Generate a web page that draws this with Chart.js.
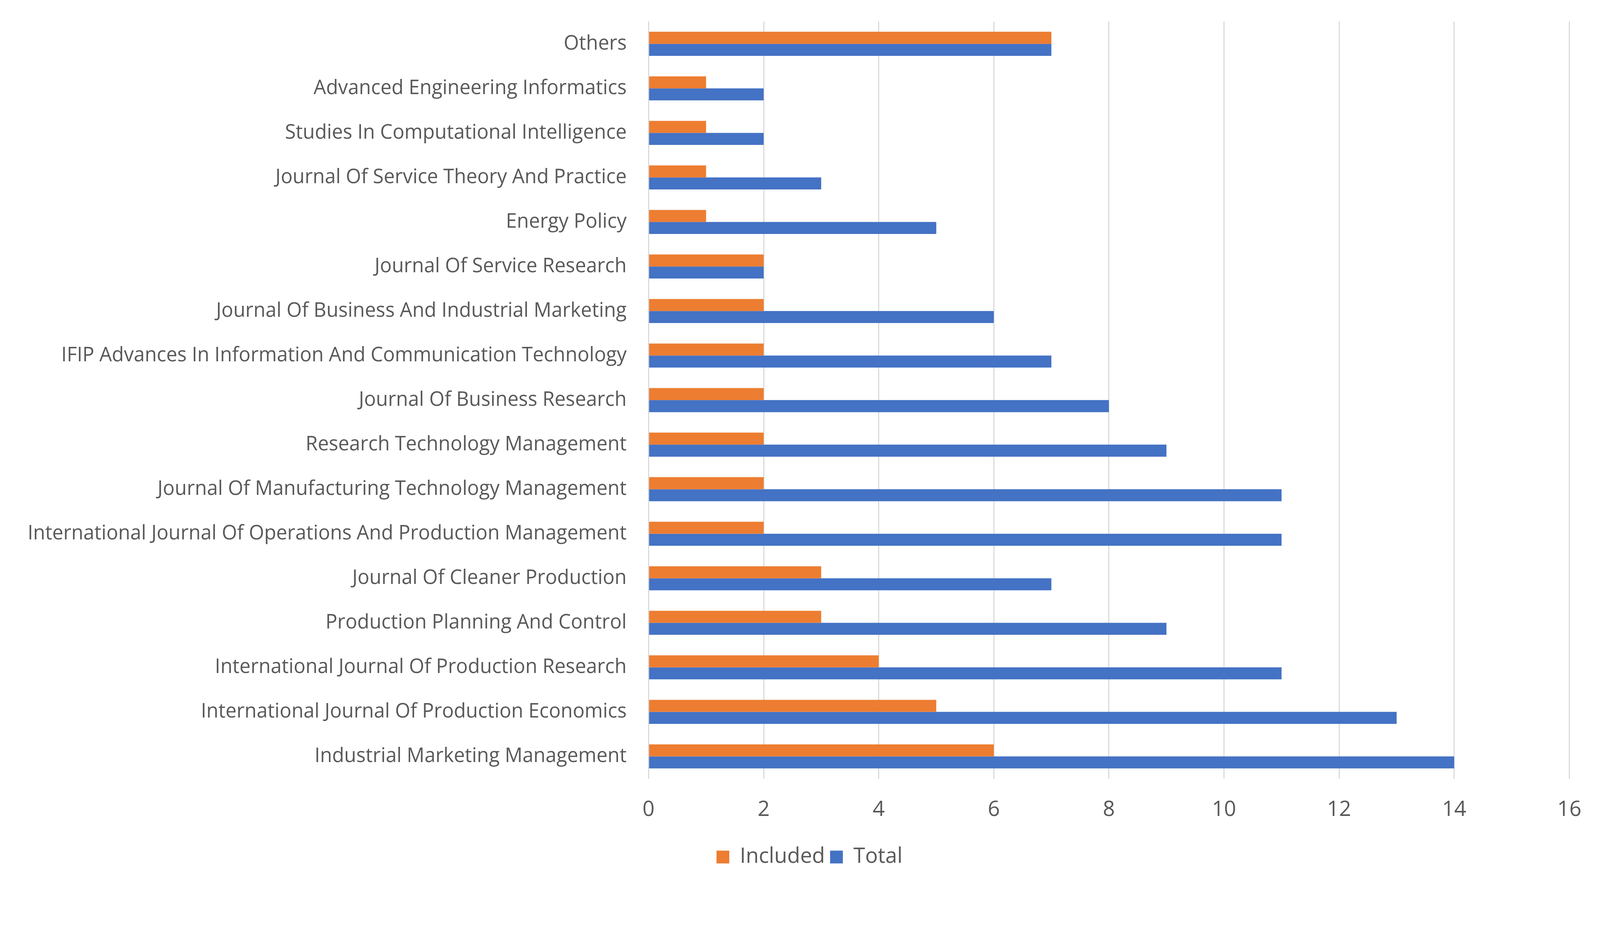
<!DOCTYPE html>
<html>
<head>
<meta charset="utf-8">
<script src="https://cdn.jsdelivr.net/npm/chart.js@4/dist/chart.umd.min.js"></script>
<style>
  html, body { margin: 0; padding: 0; background: #fff; overflow: hidden; }
  #wrap { position: relative; }
</style>
</head>
<body>
<div id="wrap"><canvas id="chart"></canvas></div>
<script>
// journals, top to bottom as in the picture
var journals = [
    "Others",
    "Advanced Engineering Informatics",
    "Studies In Computational Intelligence",
    "Journal Of Service Theory And Practice",
    "Energy Policy",
    "Journal Of Service Research",
    "Journal Of Business And Industrial Marketing",
    "IFIP Advances In Information And Communication Technology",
    "Journal Of Business Research",
    "Research Technology Management",
    "Journal Of Manufacturing Technology Management",
    "International Journal Of Operations And Production Management",
    "Journal Of Cleaner Production",
    "Production Planning And Control",
    "International Journal Of Production Research",
    "International Journal Of Production Economics",
    "Industrial Marketing Management"
]
var included = [7, 1, 1, 1, 1, 2, 2, 2, 2, 2, 2, 2, 3, 3, 4, 5, 6]
var total = [7, 2, 2, 3, 5, 2, 6, 7, 8, 9, 11, 11, 7, 9, 11, 13, 14]
var xTicks = [0, 2, 4, 6, 8, 10, 12, 14, 16]

// sizes below are for a 4384 x 2404 page, scaled to the viewport width
var k = window.innerWidth / 4384
var wrap = document.getElementById("wrap")
wrap.style.width = (4384 * k) + "px"
wrap.style.height = (2404 * k) + "px"

Chart.defaults.font.family = "'Open Sans', sans-serif"
Chart.defaults.color = "#595959"

// legend sits a little right of the page centre in the original
var legendShift = {
    id: 'legendShift',
    afterLayout: function (chart) {
        chart.legend.left += 49 * k
        chart.legend.right += 49 * k
    }
}

var ctx = document.getElementById("chart").getContext('2d')

var myChart = new Chart(ctx, {
    type: 'bar',
    data: {
        labels: journals,
        datasets: [
            {
                label: "Included",
                data: included,
                backgroundColor: "#ED7D31",
                borderWidth: 0
            }, {
                label: "Total",
                data: total,
                backgroundColor: "#4472C4",
                borderWidth: 0
            }
        ]
    },
    plugins: [legendShift],
    options: {
        indexAxis: 'y',
        responsive: true,
        maintainAspectRatio: false,
        animation: false,
        categoryPercentage: 0.54,
        barPercentage: 1.0,
        layout: { padding: { top: 59 * k, right: 56 * k, left: 10 * k, bottom: 16 * k } },
        plugins: {
            legend: {
                position: 'bottom',
                labels: {
                    font: { size: 58 * k },
                    boxWidth: 35 * k,
                    boxHeight: 35 * k,
                    padding: 14 * k
                }
            },
            tooltip: { enabled: false }
        },
        scales: {
            x: {
                min: 0,
                max: 16,
                afterBuildTicks: function (scale) {
                    scale.ticks = xTicks.map(function (v) { return { value: v } })
                },
                grid: { color: "#D9D9D9", lineWidth: 3 * k, drawTicks: false },
                border: { display: false },
                ticks: { font: { size: 58 * k }, padding: 51 * k },
                afterFit: function (scale) { scale.height += 0 }
            },
            y: {
                grid: { display: false, drawTicks: false },
                border: { display: false },
                ticks: { font: { size: 54 * k }, padding: 60 * k, autoSkip: false },
                afterFit: function (scale) {
                    scale.width = 1767 * k
                    scale.paddingTop = 0
                    scale.paddingBottom = 0
                }
            }
        }
    }
})
</script>
</body>
</html>
